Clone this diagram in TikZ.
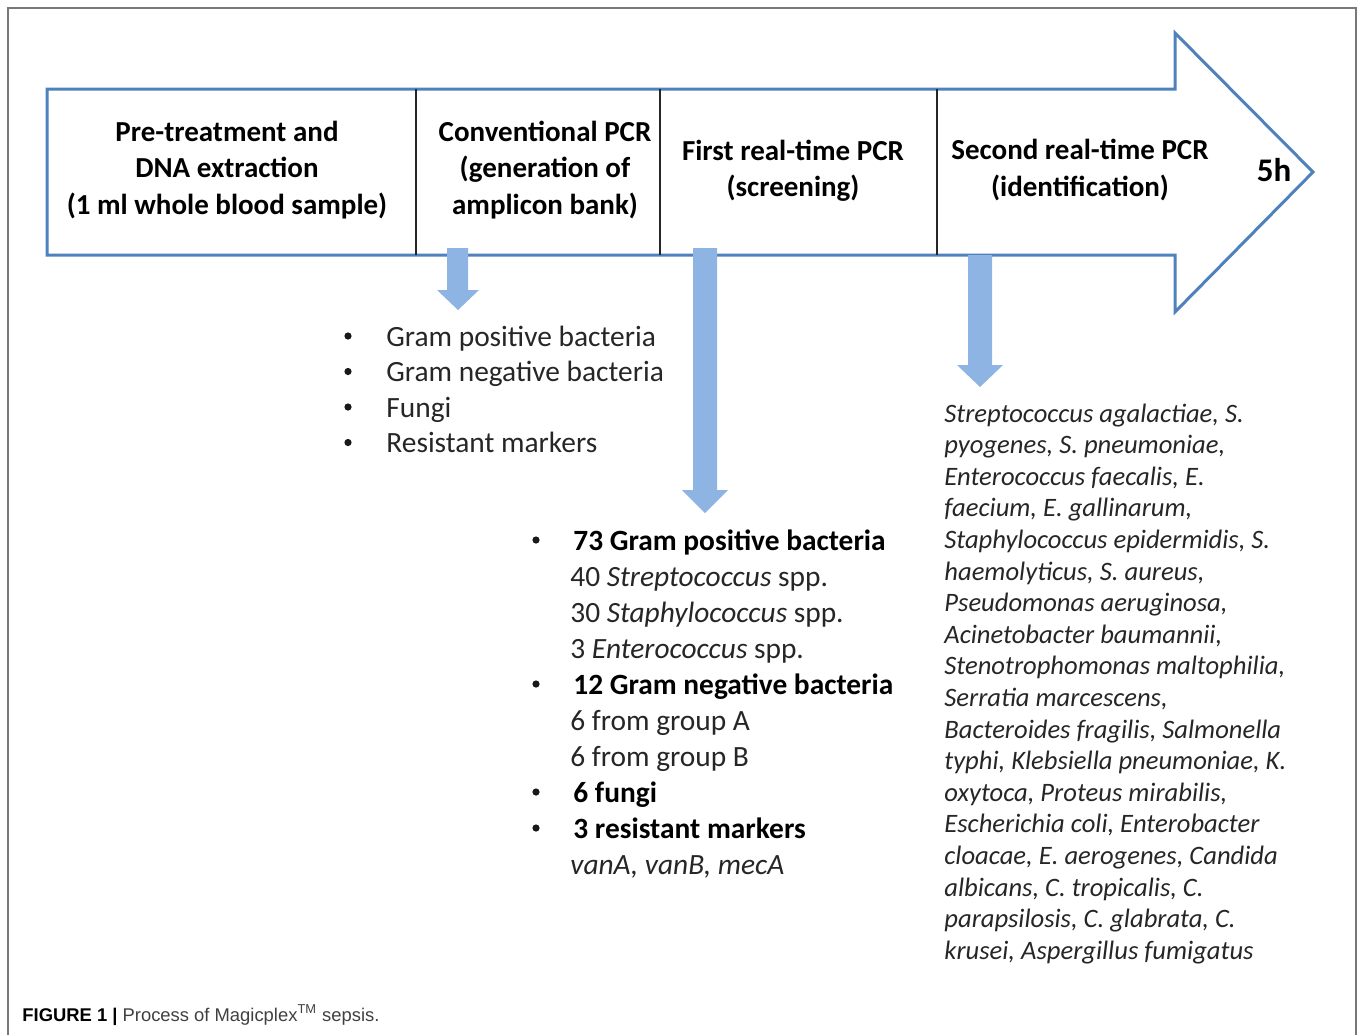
\documentclass[tikz,border=0pt]{standalone}
\usepackage{fontspec}
\setmainfont{Carlito}
\newfontfamily\capfont{Liberation Sans}
\definecolor{stageblue}{RGB}{79,129,189}
\definecolor{flowblue}{RGB}{141,180,226}
\definecolor{framegray}{RGB}{120,120,120}
\begin{document}
\begin{tikzpicture}[x=0.5pt,y=-0.5pt,
  stage/.style={align=center, inner sep=0pt, font=\fontsize{14.5}{18.25}\selectfont\bfseries},
  dot/.style={circle, fill=black!90, inner sep=0pt, minimum size=3.6pt},
  item/.style={anchor=base west, inner sep=0pt, text=black!85, font=\fontsize{14.7}{18}\selectfont},
  species/.style={anchor=base west, inner sep=0pt, text=black!85, font=\fontsize{13.3}{16}\selectfont\itshape}]
\useasboundingbox (0,0) rectangle (1358,1035);
% frame
\draw[framegray, line width=0.8pt] (8,1035) -- (8,8) -- (1356,8) -- (1356,1035);
% time line arrow
\draw[stageblue, line width=1.5pt, fill=white] (47,89) -- (1175,89) -- (1175,33) -- (1313,172)
  -- (1175,312) -- (1175,255) -- (47,255) -- cycle;
\draw[black!85, line width=0.8pt] (416,89) -- (416,255);
\draw[black!85, line width=0.8pt] (660,89) -- (660,255);
\draw[black!85, line width=0.8pt] (937,89) -- (937,255);
% stages
\node[stage] (pre) at (227,170) {Pre-treatment and\\DNA extraction\\(1 ml whole blood sample)};
\node[stage] (conv) at (545,170) {Conventional PCR\\(generation of\\amplicon bank)};
\node[stage] (first) at (793,171) {First real-time PCR\\(screening)};
\node[stage] (second) at (1080,170) {Second real-time PCR\\(identification)};
\node[stage, font=\fontsize{16.5}{18}\selectfont\bfseries] (time) at (1274,170) {5h};
% block arrows
\fill[flowblue] (447,248) -- (468,248) -- (468,290) -- (479,290) -- (458,310) -- (437,290) -- (447,290) -- cycle;
\fill[flowblue] (693,248) -- (717,248) -- (717,490) -- (728,490) -- (705,513) -- (682,490) -- (693,490) -- cycle;
\fill[flowblue] (968,255) -- (992,255) -- (992,365) -- (1003,365) -- (980,387) -- (957,365) -- (968,365) -- cycle;
% conventional PCR targets
\foreach \txt [count=\i from 0] in {Gram positive bacteria, Gram negative bacteria, Fungi, Resistant markers} {
  \node[dot] (cb\i) at (348,{336+35.5*\i}) {};
  \node[item] (ct\i) at (386,{346+35.5*\i}) {\txt};
}
% screening panel
\node[dot] (sb0) at (536,540) {};
\node[item, text=black, font=\fontsize{14.7}{18}\selectfont\bfseries] (st0) at (573,550) {73 Gram positive bacteria};
\node[item] (st1) at (570,586) {40 \textit{Streptococcus} spp.};
\node[item] (st2) at (570,622) {30 \textit{Staphylococcus} spp.};
\node[item] (st3) at (570,658) {3 \textit{Enterococcus} spp.};
\node[dot] (sb1) at (536,684) {};
\node[item, text=black, font=\fontsize{14.7}{18}\selectfont\bfseries] (st4) at (573,694) {12 Gram negative bacteria};
\node[item] (st5) at (570,730) {6 from group A};
\node[item] (st6) at (570,766) {6 from group B};
\node[dot] (sb2) at (536,792) {};
\node[item, text=black, font=\fontsize{14.7}{18}\selectfont\bfseries] (st7) at (573,802) {6 fungi};
\node[dot] (sb3) at (536,828) {};
\node[item, text=black, font=\fontsize{14.7}{18}\selectfont\bfseries] (st8) at (573,838) {3 resistant markers};
\node[item] (st9) at (570,874) {\textit{vanA, vanB, mecA}};
% identification panel
\foreach \txt [count=\i from 0] in {{Streptococcus agalactiae, S.}, {pyogenes, S. pneumoniae,},
  {Enterococcus faecalis, E.}, {faecium, E. gallinarum,}, {Staphylococcus epidermidis, S.},
  {haemolyticus, S. aureus,}, {Pseudomonas aeruginosa,}, {Acinetobacter baumannii,},
  {Stenotrophomonas maltophilia,}, {Serratia marcescens,}, {Bacteroides fragilis, Salmonella},
  {typhi, Klebsiella pneumoniae, K.}, {oxytoca, Proteus mirabilis,}, {Escherichia coli, Enterobacter},
  {cloacae, E. aerogenes, Candida}, {albicans, C. tropicalis, C.}, {parapsilosis, C. glabrata, C.},
  {krusei, Aspergillus fumigatus}} {
  \node[species] (sp\i) at (944,{422+31.6*\i}) {\txt};
}
% caption
\node[anchor=base west, inner sep=0pt, text=black!75, font=\capfont\fontsize{9.2}{11}\selectfont] (cap) at (22,1021)
  {\textbf{\textcolor{black}{FIGURE 1 |}} Process of Magicplex\textsuperscript{TM} sepsis.};
\end{tikzpicture}
\end{document}
